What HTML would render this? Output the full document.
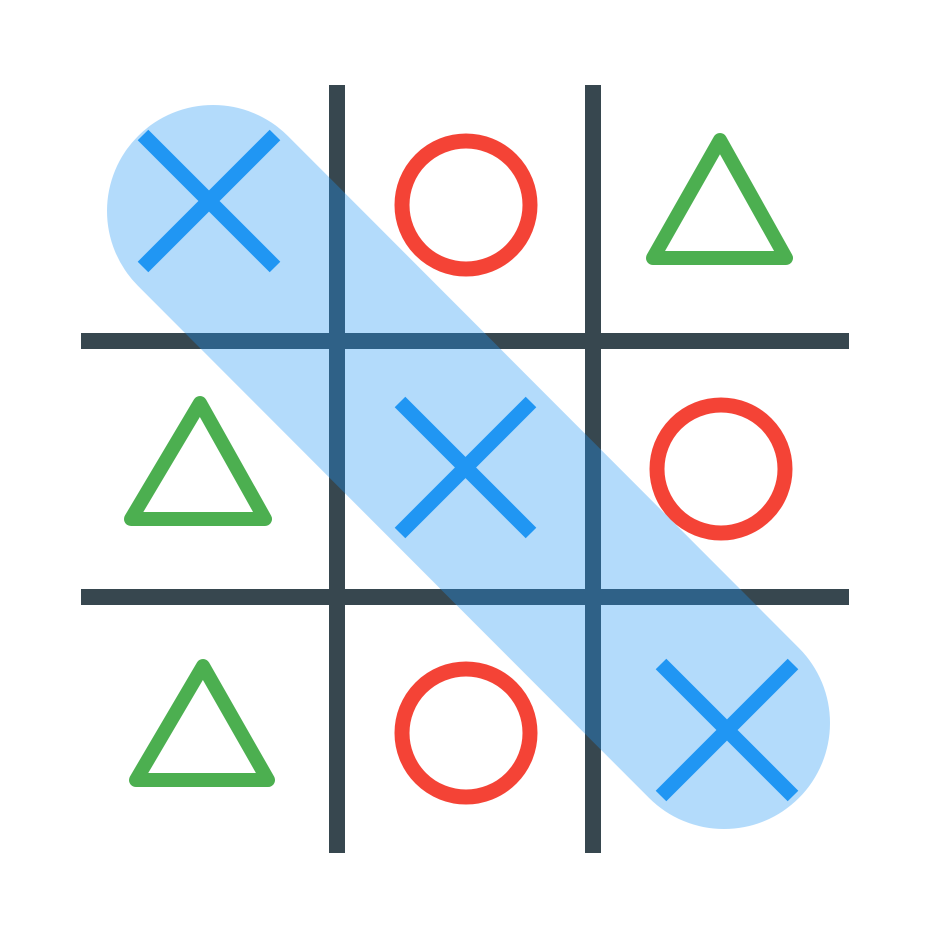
<!DOCTYPE html>
<html><head><meta charset="utf-8"><style>
html,body{margin:0;padding:0;background:#fff;}
svg{display:block;}
</style></head><body>
<svg width="937" height="937" viewBox="0 0 937 937" xmlns="http://www.w3.org/2000/svg">
<g stroke="#37474F" stroke-width="16" stroke-linecap="butt">
<line x1="337" y1="85" x2="337" y2="853"/>
<line x1="593" y1="85" x2="593" y2="853"/>
<line x1="81" y1="341" x2="849" y2="341"/>
<line x1="81" y1="597" x2="849" y2="597"/>
</g>
<g stroke="#2196F3" stroke-width="15" stroke-linecap="butt">
<path d="M143 135 L275 267 M275 135 L143 267"/>
<path d="M400 402 L531 533 M531 402 L400 533"/>
<path d="M661 664 L793 796 M793 664 L661 796"/>
</g>
<g fill="none" stroke="#F44336" stroke-width="15">
<circle cx="466" cy="205" r="64"/>
<circle cx="721" cy="469" r="64"/>
<circle cx="466" cy="733" r="64"/>
</g>
<g fill="none" stroke="#4CAF50" stroke-width="14" stroke-linejoin="round">
<polygon points="720,140 786,258 653,258"/>
<polygon points="200,403 265,519 131,519"/>
<polygon points="203,666 268,780 136,780"/>
</g>
<line x1="213" y1="211" x2="724" y2="723" stroke="#2196F3" stroke-opacity="0.34" stroke-width="212" stroke-linecap="round"/>
</svg>
</body></html>
